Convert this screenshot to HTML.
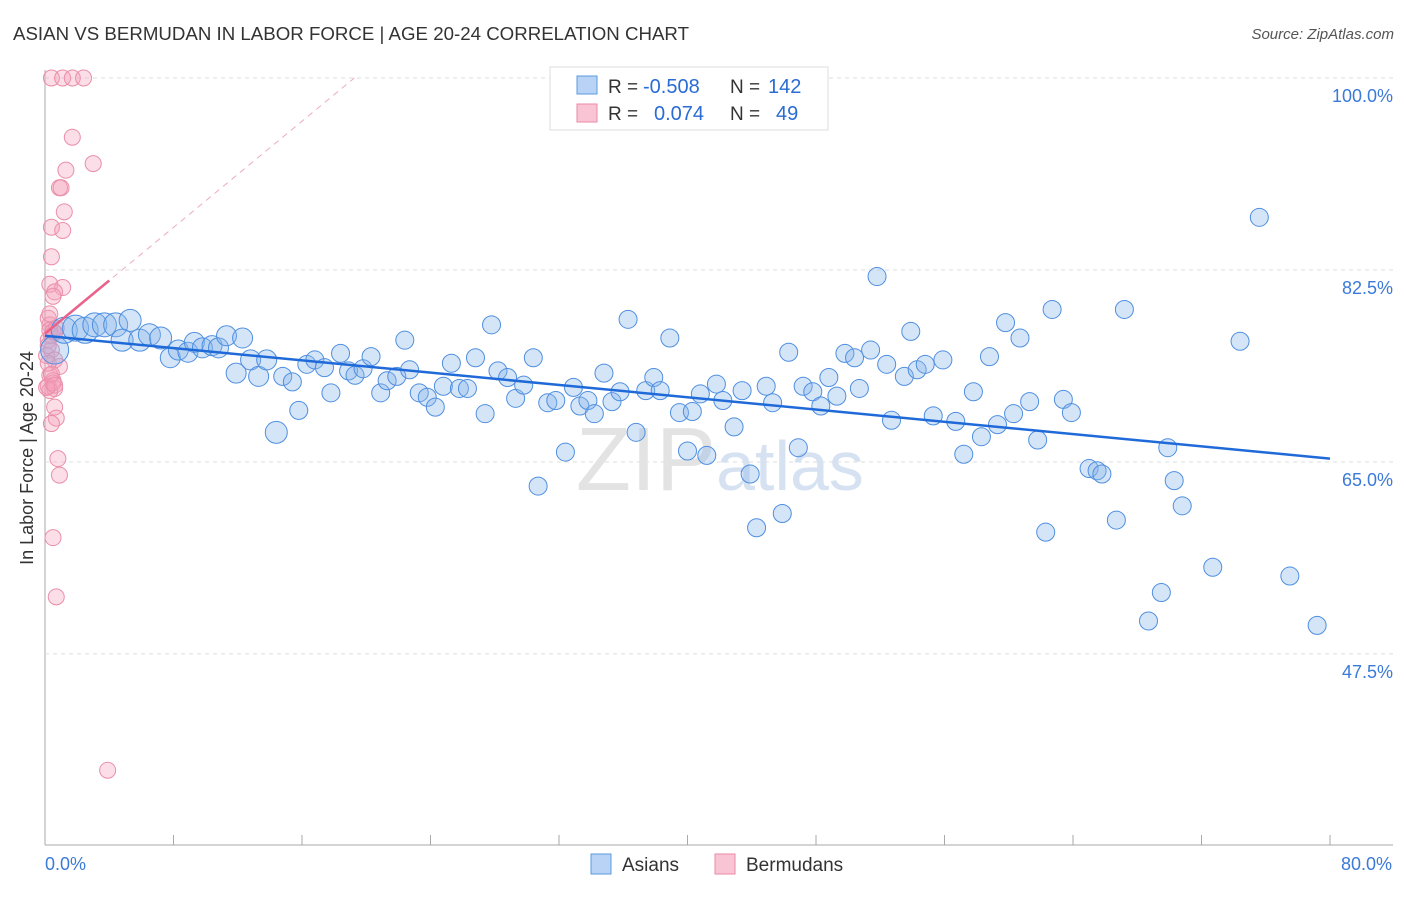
<!DOCTYPE html>
<html><head><meta charset="utf-8"><style>
body{margin:0;background:#fff;font-family:"Liberation Sans",sans-serif;}
svg text{font-family:"Liberation Sans",sans-serif;}
</style></head><body>
<svg id="chart" width="1406" height="892" xmlns="http://www.w3.org/2000/svg">
<text x="13" y="40" font-size="18" fill="#333" textLength="676" lengthAdjust="spacingAndGlyphs">ASIAN VS BERMUDAN IN LABOR FORCE | AGE 20-24 CORRELATION CHART</text>
<text x="1394" y="39" font-size="15" fill="#555" text-anchor="end" font-style="italic">Source: ZipAtlas.com</text>
<g id="grid"></g>
<text x="720" y="490" font-size="90" fill="#e3e3e3" text-anchor="middle" font-family="Liberation Serif"><tspan>ZIP</tspan><tspan font-family="Liberation Sans" font-size="70" fill="#d6e2f2">atlas</tspan></text>
<g id="pts"></g>
<g id="trends"></g>
<text transform="translate(33,458) rotate(-90)" font-size="18" fill="#333" text-anchor="middle">In Labor Force | Age 20-24</text>
<g>
<rect x="550" y="67" width="278" height="63" fill="#fff" stroke="#ddd"/>
<rect x="577" y="76" width="20" height="18" fill="#b8d3f5" stroke="#5b9be0"/>
<rect x="577" y="104" width="20" height="18" fill="#f9c4d3" stroke="#ea8aa6"/>
<text x="608" y="93" font-size="19" fill="#333">R =</text><text x="643" y="93" font-size="20" fill="#2a6bd4">-0.508</text>
<text x="730" y="93" font-size="19" fill="#333">N =</text><text x="768" y="93" font-size="20" fill="#2a6bd4">142</text>
<text x="608" y="120" font-size="19" fill="#333">R =</text><text x="654" y="120" font-size="20" fill="#2a6bd4">0.074</text>
<text x="730" y="120" font-size="19" fill="#333">N =</text><text x="776" y="120" font-size="20" fill="#2a6bd4">49</text>
</g>
<g>
<rect x="591" y="854" width="20" height="20" fill="#b8d3f5" stroke="#5b9be0"/>
<text x="622" y="871" font-size="19" fill="#333">Asians</text>
<rect x="715" y="854" width="20" height="20" fill="#f9c4d3" stroke="#ea8aa6"/>
<text x="746" y="871" font-size="19" fill="#333">Bermudans</text>
</g>
</svg>
<script>
const yTicks=[100,82.5,65,47.5];
const yTickLabels=["100.0%","82.5%","65.0%","47.5%"];
const xTickLabels=["0.0%","80.0%"];
const asianX=[0.6,1.2,1.9,2.5,3.1,3.7,4.4,5.3,4.8,5.9,6.5,7.2,7.8,8.3,8.9,9.3,9.8,10.4,10.8,11.3,11.9,12.3,12.8,13.3,13.8,14.4,14.8,15.4,15.8,16.3,16.8,17.4,17.8,18.4,18.9,19.3,19.8,20.3,20.9,21.3,21.9,22.4,22.7,23.3,23.8,24.3,24.8,25.3,25.8,26.3,26.8,27.4,27.8,28.2,28.8,29.3,29.8,30.4,30.7,31.3,31.8,32.4,32.9,33.3,33.8,34.2,34.8,35.3,35.8,36.3,36.8,37.4,37.9,38.3,38.9,39.5,40.0,40.3,40.8,41.2,41.8,42.2,42.9,43.4,43.9,44.3,44.9,45.3,45.9,46.3,46.9,47.2,47.8,48.3,48.8,49.3,49.8,50.4,50.7,51.4,51.8,52.4,52.7,53.5,53.9,54.3,54.8,55.3,55.9,56.7,57.2,57.8,58.3,58.8,59.3,59.8,60.3,60.7,61.3,61.8,62.3,62.7,63.4,63.9,65.0,65.5,65.8,66.7,67.2,68.7,69.5,69.9,70.3,70.8,72.7,74.4,75.6,77.5,79.2];
const asianY=[75.2,77.0,77.2,77.0,77.5,77.5,77.5,77.9,76.1,76.1,76.6,76.3,74.5,75.2,75.0,75.9,75.4,75.6,75.4,76.5,73.1,76.3,74.3,72.8,74.3,67.7,72.8,72.3,69.7,73.9,74.3,73.6,71.3,74.9,73.3,72.9,73.5,74.6,71.3,72.4,72.8,76.1,73.4,71.3,70.9,70.0,71.9,74.0,71.7,71.7,74.5,69.4,77.5,73.3,72.7,70.8,72.0,74.5,62.8,70.4,70.6,65.9,71.8,70.1,70.6,69.4,73.1,70.5,71.4,78.0,67.7,71.5,72.7,71.5,76.3,69.5,66.0,69.6,71.2,65.6,72.1,70.6,68.2,71.5,63.9,59.0,71.9,70.4,60.3,75.0,66.3,71.9,71.4,70.1,72.7,71.0,74.9,74.5,71.7,75.2,81.9,73.9,68.8,72.8,76.9,73.4,73.9,69.2,74.3,68.7,65.7,71.4,67.3,74.6,68.4,77.7,69.4,76.3,70.5,67.0,58.6,78.9,70.7,69.5,64.4,64.2,63.9,59.7,78.9,50.5,53.1,66.3,63.3,61.0,55.4,76.0,87.3,54.6,50.1];
const asianSize=[14,13,13,13,12,12,12,11,11,11,11,11,10,10,10,10,10,10,10,10,10,10,10,10,10,11];
const bermX=[0.4,1.1,1.7,2.4,1.7,3.0,1.3,0.9,1.0,1.2,0.4,1.1,0.4,0.3,1.1,0.6,0.5,0.2,0.3,0.6,0.2,0.4,0.1,0.6,0.9,0.3,0.5,0.2,0.6,0.3,0.6,0.7,0.4,0.8,0.9,0.5,0.7,3.9,0.3,0.4,0.2,0.5,0.1,0.3,0.7,0.2,0.5,0.4,0.6];
const bermY=[100,100,100,100,94.6,92.2,91.6,90.0,90.0,87.8,86.4,86.1,83.7,81.2,80.9,80.5,80.1,78.1,77.5,76.8,76.1,75.2,74.7,74.3,73.7,72.9,72.4,71.9,71.7,71.5,70.0,69.0,68.5,65.3,63.8,58.1,52.7,36.9,77.0,76.5,75.6,72.2,71.8,78.5,77.2,74.0,76.9,73.0,72.0];
const asianTrend=[76.5,65.3];
const bermTrend=[76.7,1.21];
const NS="http://www.w3.org/2000/svg";
const X=v=>45+v/80*1285, Y=v=>78+(100-v)*10.97;
function mk(t,a,p){const e=document.createElementNS(NS,t);for(const k in a)e.setAttribute(k,a[k]);p.appendChild(e);return e;}
const grid=document.getElementById('grid');
const ax1=mk('line',{x1:45,y1:70,x2:45,y2:845,stroke:'#aaa'},grid);


const ax2=mk('line',{x1:45,y1:845,x2:1393,y2:845,stroke:'#aaa'},grid);


yTicks.forEach((t,i)=>{
 const g=mk('line',{x1:45,x2:1393,y1:Y(t),y2:Y(t),stroke:'#ddd','stroke-dasharray':'4,4'},grid);
 
 
 const l=mk('text',{x:1393,y:Y(t)+24,'font-size':18,fill:'#3b7ad8','text-anchor':'end'},grid);
 l.textContent=yTickLabels[i];
 
 
});
for(let i=0;i<=10;i++){const tk=mk('line',{x1:X(i*8),x2:X(i*8),y1:835,y2:845,stroke:'#aaa'},grid);
 
 }
[[0,'start'],[80,'end']].forEach((d,i)=>{const l=mk('text',{x:X(d[0])+(i?62:0),y:870,'font-size':18,fill:'#3b7ad8','text-anchor':d[1]},grid);l.textContent=xTickLabels[i];
 
 });
const pts=document.getElementById('pts');
bermX.forEach((x,i)=>{const c=mk('circle',{cx:X(x),cy:Y(bermY[i]),r:8,fill:'rgba(244,160,186,0.35)',stroke:'#eb8ea9','stroke-width':1},pts);
 
 });
asianX.forEach((x,i)=>{const c=mk('circle',{cx:X(x),cy:Y(asianY[i]),r:asianSize[i]||9,fill:'rgba(135,180,235,0.35)',stroke:'#4f8fe0','stroke-width':1},pts);
 
 });
const tr=document.getElementById('trends');
const bt=mk('line',{x1:X(0),y1:Y(asianTrend[0]),x2:X(80),y2:Y(asianTrend[1]),stroke:'#1f6ad8','stroke-width':2.5},tr);


const xe=(100-bermTrend[0])/bermTrend[1];
const pd=mk('line',{x1:X(0),y1:Y(bermTrend[0]),x2:X(xe),y2:Y(100),stroke:'#eeaabd','stroke-width':1,'stroke-dasharray':'6,5'},tr);


const ps=mk('line',{x1:X(0),y1:Y(bermTrend[0]),x2:X(4),y2:Y(bermTrend[0]+4*bermTrend[1]),stroke:'#e8628a','stroke-width':2.5},tr);


</script>
</body></html>
